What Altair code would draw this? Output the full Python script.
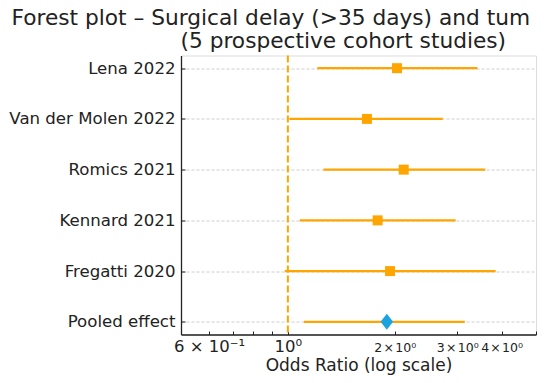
import altair as alt
import pandas as pd

studies = ["Lena 2022", "Van der Molen 2022", "Romics 2021", "Kennard 2021", "Fregatti 2020", "Pooled effect"]
odds_ratio = [2.03, 1.67, 2.12, 1.79, 1.94, 1.90]
ci_low = [1.21, 1.01, 1.26, 1.08, 0.98, 1.11]
ci_high = [3.42, 2.73, 3.60, 2.97, 3.85, 3.15]
kind = ["study", "study", "study", "study", "study", "pooled"]

x_ticks = [0.5, 0.6, 0.7, 0.8, 0.9, 1, 2, 3, 4, 5]
x_labels = ["", "6 × 10⁻¹", "", "", "", "10⁰",
            "2\u200a×\u200a10⁰", "3\u200a×\u200a10⁰", "4\u200a×\u200a10⁰", ""]
x_domain = [0.5, 5]
ref_value = [1]

title_line1 = "Forest plot – Surgical delay (>35 days) and tum"
title_line2 = "(5 prospective cohort studies)"
x_title = "Odds Ratio (log scale)"

df = pd.DataFrame({"study": studies, "or": odds_ratio, "lo": ci_low, "hi": ci_high, "kind": kind})

label_expr = ""
for v, lab in zip(x_ticks, x_labels):
    label_expr += f"abs(datum.value - {v}) < 1e-9 ? '{lab}' : "
label_expr += "''"

FONT = "DejaVu Sans"
ORANGE = "#FFA500"
BLUE = "#1aa3e0"
TXT = "#222"
W, H = 355, 279

xscale = alt.Scale(type="log", domain=x_domain, nice=False)
yscale = alt.Scale(type="point", domain=studies, padding=0.25)

x_bottom_axis = alt.Axis(
    values=x_ticks, labelExpr=label_expr, tickSize=0, labelPadding=17,
    labelBaseline="alphabetic",
    labelFont=FONT,
    labelFontSize={"condition": {"test": "datum.value < 1.5", "value": 16.5}, "value": 12.5},
    labelColor=TXT, labelFlush=False, labelOverlap=False,
    domainColor=TXT, domainWidth=1.3, grid=False, title=x_title,
    titleFont=FONT, titleFontSize=17, titleFontWeight="normal",
    titleColor=TXT, titlePadding=2,
)
x_tick_axis = alt.Axis(orient="top", offset=-H, values=x_ticks, labels=False, domain=False,
                       tickSize=3.5, tickColor=TXT, tickWidth=1, grid=False, title=None)

y_left_axis = alt.Axis(orient="left", tickSize=0, labelPadding=6, labelFont=FONT,
                       labelFontSize=16.6, labelColor=TXT, domainColor=TXT,
                       domainWidth=1.3, grid=True, gridColor="#c8c8c8", gridDash=[3, 2],
                       gridWidth=0.9, title=None)
y_tick_axis = alt.Axis(orient="right", offset=-W, labels=False, domain=False, tickSize=4,
                       tickColor=TXT, tickWidth=1, grid=False, title=None)

base = alt.Chart(df)

ci = base.mark_rule(color=ORANGE, strokeWidth=2.2).encode(
    x=alt.X("lo:Q", scale=xscale, axis=x_bottom_axis),
    x2="hi:Q",
    y=alt.Y("study:N", scale=yscale, axis=y_left_axis),
)

ticks_layer = base.mark_point(opacity=0).encode(
    x=alt.X("or:Q", scale=xscale, axis=x_tick_axis),
    y=alt.Y("study:N", scale=yscale, axis=y_tick_axis),
)

ref = alt.Chart(pd.DataFrame({"v": ref_value})).mark_rule(
    color=ORANGE, strokeWidth=2, strokeDash=[7, 3]
).encode(x=alt.X("v:Q", scale=xscale, axis=None))

squares = base.transform_filter(alt.datum.kind == "study").mark_point(
    shape="square", filled=True, size=100, color=ORANGE, opacity=1
).encode(
    x=alt.X("or:Q", scale=xscale, axis=None),
    y=alt.Y("study:N", scale=yscale, axis=None),
)

diamond = base.transform_filter(alt.datum.kind == "pooled").mark_point(
    shape="M0,-1L0.78,0L0,1L-0.78,0Z", filled=True, size=256, color=BLUE, opacity=1
).encode(
    x=alt.X("or:Q", scale=xscale, axis=None),
    y=alt.Y("study:N", scale=yscale, axis=None),
)

tdf = pd.DataFrame({"t1": [title_line1], "t2": [title_line2]})
t1 = alt.Chart(tdf).mark_text(align="left", baseline="alphabetic", font=FONT, fontSize=21.7,
                              color=TXT).encode(
    x=alt.value(-169.5), y=alt.value(-31), text="t1:N")
t2 = alt.Chart(tdf).mark_text(align="left", baseline="alphabetic", font=FONT, fontSize=21.7,
                              color=TXT).encode(
    x=alt.value(-0.5), y=alt.value(-7.5), text="t2:N")

chart = alt.layer(ci, ticks_layer, ref, squares, diamond, t1, t2).resolve_axis(
    x="independent", y="independent"
).properties(
    width=W, height=H,
    padding={"left": 173, "top": 47.5, "right": 6, "bottom": 40},
    autosize=alt.AutoSizeParams(type="none"),
).configure_view(stroke=None).configure(background="white")

chart.save("out.html", embed_options={"renderer": "svg", "actions": False})
